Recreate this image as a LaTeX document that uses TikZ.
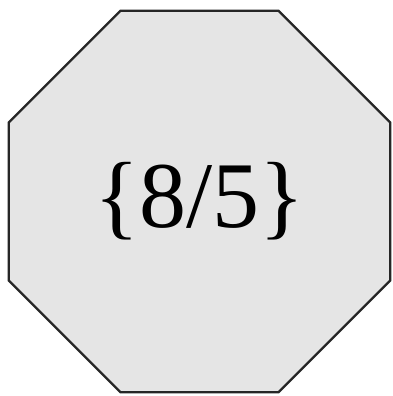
\documentclass[tikz,border=0pt]{standalone}
\usepackage{fontspec}
\setmainfont{Liberation Serif}
\usepackage{tikz}
\usetikzlibrary{shapes.geometric}

\tikzset{
  octa/.style={regular polygon,regular polygon sides=8,minimum size=413pt,
    inner sep=0pt,draw=black!85,line width=2.4pt,fill=gray!20},
}

\begin{document}
\begin{tikzpicture}[x=1pt,y=1pt]
  \useasboundingbox (0,0) rectangle (392,396);
  \node[octa,font=\fontsize{94}{112}\selectfont] (star) at (199.5,194.5) {\{8/5\}};
\end{tikzpicture}
\end{document}
